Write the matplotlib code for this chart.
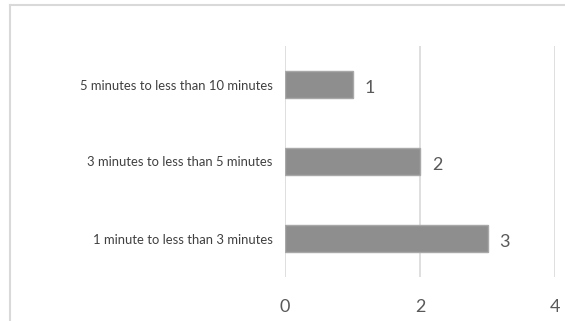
import matplotlib
matplotlib.use("Agg")
import matplotlib.pyplot as plt
from matplotlib.lines import Line2D

categories = ["1 minute to less than 3 minutes",
              "3 minutes to less than 5 minutes",
              "5 minutes to less than 10 minutes"]
values = [3, 2, 1]
xticks = [0, 2, 4]

plt.rcParams['font.family'] = ['Lato', 'DejaVu Sans']

W, H = 565, 321
fig = plt.figure(figsize=(W / 100, H / 100), dpi=100)
ax = fig.add_axes([285 / W, (H - 277) / H, (555 - 285) / W, (277 - 46) / H])

ypos = list(range(len(categories)))
bars = ax.barh(ypos, values, height=0.34, color="#8e8e8e",
               edgecolor="#a8a8a8", linewidth=1.0, zorder=3)

for y, v in zip(ypos, values):
    ax.text(v + 0.18, y - 0.04, str(v), va="center", ha="left",
            fontsize=13, color="#595959")

ax.set_xlim(0, 4)
ax.set_ylim(-0.5, len(categories) - 0.5)
ax.set_xticks(xticks)
ax.set_xticklabels([str(t) for t in xticks], fontsize=13, color="#595959")
ax.set_yticks(ypos)
ax.set_yticklabels(categories, fontsize=9.4, color="#404040")
ax.tick_params(axis="x", length=0, pad=16)
ax.tick_params(axis="y", length=0, pad=9)
ax.grid(axis="x", color="#d9d9d9", linewidth=1.2, zorder=0)
for s in ax.spines.values():
    s.set_visible(False)

# outer chart-area border (partially cropped)
fig.add_artist(Line2D([9.5 / W, 9.5 / W], [0, 1 - 4.5 / H], transform=fig.transFigure,
                      color="#d9d9d9", linewidth=1.5))
fig.add_artist(Line2D([9.5 / W, 1], [1 - 4.5 / H, 1 - 4.5 / H], transform=fig.transFigure,
                      color="#d9d9d9", linewidth=1.5))

fig.savefig("out.png", dpi=100, facecolor="white")
